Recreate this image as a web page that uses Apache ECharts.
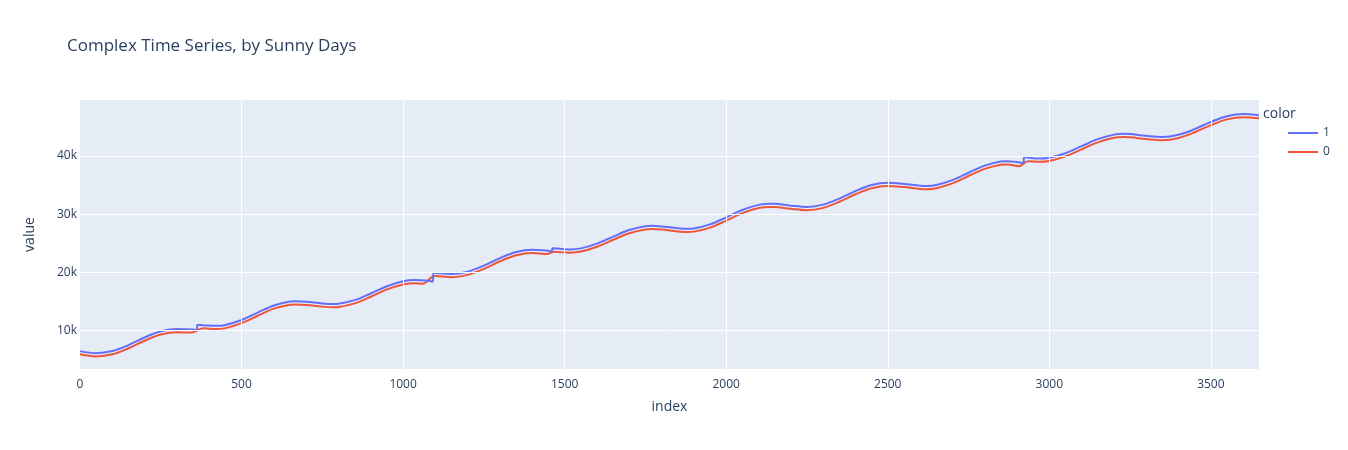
<!DOCTYPE html>
<html>
<head>
<meta charset="utf-8">
<title>Complex Time Series, by Sunny Days</title>
<script src="https://cdn.jsdelivr.net/npm/echarts@6/dist/echarts.min.js"></script>
<style>
    html, body { margin: 0; padding: 0; background: #fff; }
    #chart { width: 1348px; height: 450px; }
</style>
</head>
<body>
<div id="chart"></div>
<script>
// series "1" (sunny) - index / value pairs
var indexSunny = [0, 50, 100, 150, 200, 250, 300, 350, 362, 363, 380, 420, 450, 500, 550, 600, 650, 667, 700, 750,
    785, 800, 850, 900, 950, 1000, 1035, 1070, 1092, 1094, 1100, 1150, 1200, 1250, 1300, 1350, 1400, 1450, 1460, 1462,
    1500, 1515, 1550, 1600, 1650, 1700, 1750, 1770, 1800, 1850, 1880, 1900, 1950, 2000, 2050, 2100, 2135, 2150, 2200, 2250,
    2300, 2350, 2400, 2450, 2500, 2550, 2600, 2620, 2650, 2700, 2750, 2800, 2850, 2870, 2900, 2920, 2922, 2950, 2970, 3000,
    3050, 3100, 3150, 3200, 3230, 3250, 3300, 3350, 3400, 3450, 3500, 3550, 3600, 3649];
var valueSunny = [6500, 6150, 6510, 7540, 8840, 9900, 10300, 10200, 10050, 11000, 10950, 10850, 11000, 11850, 13120, 14340, 15000, 15050, 14970, 14690,
    14600, 14640, 15250, 16390, 17640, 18500, 18700, 18620, 18450, 19950, 19930, 19750, 20140, 21180, 22470, 23500, 23900, 23720, 23600, 24150,
    24000, 23950, 24140, 24960, 26160, 27290, 27940, 28000, 27910, 27590, 27500, 27560, 28250, 29450, 30730, 31600, 31800, 31780, 31470, 31250,
    31640, 32680, 33970, 35000, 35400, 35200, 34890, 34850, 35000, 35840, 37110, 38330, 39030, 39100, 38950, 38750, 39800, 39600, 39550, 39690,
    40470, 41680, 42880, 43660, 43800, 43760, 43450, 43250, 43630, 44610, 45840, 46820, 47200, 47000];

// series "0" (not sunny)
var indexCloudy = [0, 50, 100, 150, 200, 250, 300, 345, 382, 420, 450, 500, 550, 600, 650, 667, 700, 750,
    785, 800, 850, 900, 950, 1000, 1035, 1060, 1098, 1150, 1200, 1250, 1300, 1350, 1400, 1445, 1468,
    1500, 1515, 1550, 1600, 1650, 1700, 1750, 1770, 1800, 1850, 1880, 1900, 1950, 2000, 2050, 2100, 2135, 2150, 2200, 2250,
    2300, 2350, 2400, 2450, 2500, 2550, 2600, 2620, 2650, 2700, 2750, 2800, 2850, 2870, 2905, 2935, 2970, 3000,
    3050, 3100, 3150, 3200, 3230, 3250, 3300, 3350, 3400, 3450, 3500, 3550, 3600, 3649];
var valueCloudy = [5950, 5600, 5960, 6990, 8290, 9350, 9750, 9680, 10420, 10300, 10450, 11300, 12570, 13790, 14450, 14500, 14420, 14140,
    14050, 14090, 14700, 15840, 17090, 17950, 18150, 18050, 19380, 19200, 19590, 20630, 21920, 22950, 23350, 23150, 23550,
    23450, 23400, 23590, 24410, 25610, 26740, 27390, 27450, 27360, 27040, 26950, 27010, 27700, 28900, 30180, 31050, 31250, 31230, 30920, 30700,
    31090, 32130, 33420, 34450, 34850, 34650, 34340, 34300, 34450, 35290, 36560, 37780, 38480, 38550, 38250, 39100, 39000, 39140,
    39920, 41130, 42330, 43110, 43250, 43210, 42900, 42700, 43080, 44060, 45290, 46270, 46650, 46450];

// tick labels
var xTicks = [0, 500, 1000, 1500, 2000, 2500, 3000, 3500];
var yTicks = [10000, 20000, 30000, 40000];

var TEXT = '#2a3f5f';
var FONT = '"Open Sans", "Noto Sans", sans-serif';

function pairs(xs, ys) {
    var out = [];
    for (var i = 0; i < xs.length; i++) {
        out.push([xs[i], ys[i]]);
    }
    return out;
}

var chart = echarts.init(document.getElementById('chart'), null, { renderer: 'canvas' });

var option = {
    animation: false,
    backgroundColor: '#fff',
    title: [{
        text: 'Complex Time Series, by Sunny Days',
        left: 62,
        top: 33,
        textStyle: { fontFamily: FONT, fontSize: 17, fontWeight: 'normal', color: TEXT }
    }, {
        //图例标题
        text: 'color',
        left: 1258,
        top: 102,
        textStyle: { fontFamily: FONT, fontSize: 14, fontWeight: 'normal', color: TEXT }
    }],
    legend: {
        orient: 'vertical',
        left: 1288,
        top: 125,
        padding: 0,
        icon: 'rect',
        itemWidth: 30,
        itemHeight: 2,
        itemGap: 3,
        textStyle: { fontFamily: FONT, fontSize: 12, color: TEXT, lineHeight: 16 },
        data: ['1', '0']
    },
    grid: {
        left: 80,
        right: 89,
        top: 100,
        bottom: 81,
        show: true,
        backgroundColor: '#E5ECF6',
        borderWidth: 0
    },
    xAxis: {
        type: 'value',
        min: 0,
        max: 3649,
        name: 'index',
        nameLocation: 'middle',
        nameGap: 31,
        nameTextStyle: { fontFamily: FONT, fontSize: 14, color: TEXT },
        axisLine: { show: false },
        axisTick: { show: false },
        splitLine: { show: false },
        axisLabel: {
            customValues: xTicks,
            margin: 10,
            fontFamily: FONT,
            fontSize: 12,
            color: TEXT,
            formatter: function(v) {
                return String(v);
            }
        }
    },
    yAxis: {
        type: 'value',
        min: 3435,
        max: 49600,
        name: 'value',
        nameLocation: 'middle',
        nameGap: 43,
        nameTextStyle: { fontFamily: FONT, fontSize: 14, color: TEXT },
        axisLine: { show: false },
        axisTick: { show: false },
        splitLine: { show: false },
        axisLabel: {
            customValues: yTicks,
            margin: 3,
            fontFamily: FONT,
            fontSize: 12,
            color: TEXT,
            formatter: function(v) {
                return (v / 1000) + 'k';
            }
        }
    },
    series: [{
        //白色网格线
        name: 'grid',
        type: 'line',
        data: [],
        silent: true,
        z: 1,
        markLine: {
            silent: true,
            symbol: 'none',
            label: { show: false },
            lineStyle: { color: '#fff', width: 1, type: 'solid' },
            data: xTicks.slice(1).map(function(v) { return { xAxis: v }; })
                .concat(yTicks.map(function(v) { return { yAxis: v }; }))
        }
    }, {
        name: '1',
        type: 'line',
        data: pairs(indexSunny, valueSunny),
        symbol: 'none',
        smooth: 0.35,
        z: 3,
        lineStyle: { color: '#636efa', width: 2 },
        itemStyle: { color: '#636efa' }
    }, {
        name: '0',
        type: 'line',
        data: pairs(indexCloudy, valueCloudy),
        symbol: 'none',
        smooth: 0.35,
        z: 2,
        lineStyle: { color: '#EF553B', width: 2 },
        itemStyle: { color: '#EF553B' }
    }]
};

chart.setOption(option);
</script>
</body>
</html>
